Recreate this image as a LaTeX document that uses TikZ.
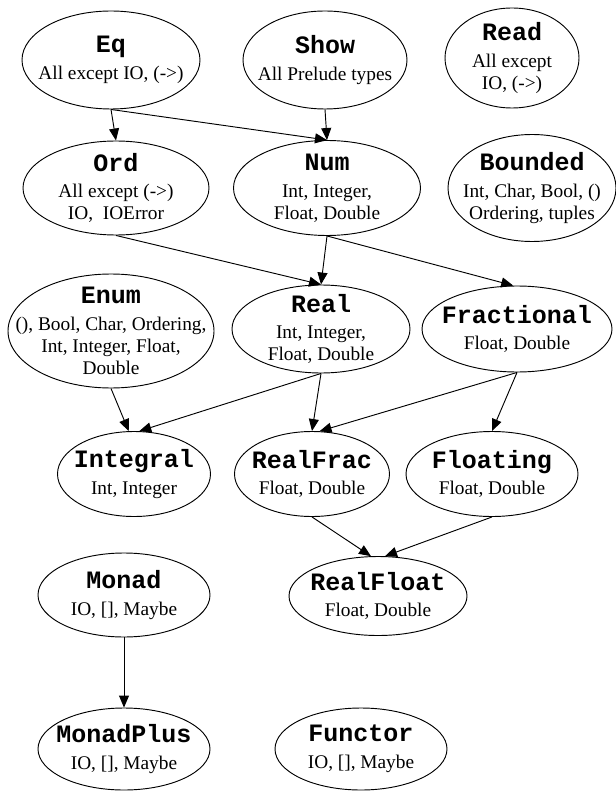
\documentclass[tikz,border=0pt]{standalone}
\usepackage{fontspec}
\setmainfont{Liberation Serif}
\newfontfamily\typefont{Liberation Mono}
\usetikzlibrary{shapes.geometric,arrows.meta}
\tikzset{
    cls/.style 2 args = {draw, ellipse, inner sep=0pt, line width=0.7pt,
        minimum width=#1*0.75pt, minimum height=#2*0.75pt},
    txt/.style = {align=center, inner sep=0pt, font=\fontsize{14.5}{16.5}\selectfont},
    arrow/.style = {draw, line width=0.7pt, -{Triangle[length=9pt,width=7.5pt]}}
}
\newcommand{\cname}[1]{{\fontsize{18.75}{22}\selectfont\typefont\bfseries #1}}

\begin{document}
\begin{tikzpicture}[x=0.75pt,y=-0.75pt]
    \useasboundingbox (0,0) rectangle (616,791);
    % classes
    \node[cls={178}{98},label={[txt]center:{\cname{Eq}\\[3.5pt]All except IO, (->)}}] (eq) at (111,60) {};
    \node[cls={164}{98},label={[txt]center:{\cname{Show}\\[3.5pt]All Prelude types}}] (show) at (325,60) {};
    \node[cls={134}{100},label={[txt]center:{\cname{Read}\\[3.5pt]All except\\IO, (->)}}] (read) at (512,58) {};
    \node[cls={186}{94},label={[txt]center:{\cname{Ord}\\[3.5pt]All except (->)\\IO,\ \ IOError}}] (ord) at (116,188) {};
    \node[cls={187}{95},label={[txt]center:{\cname{Num}\\[3.5pt]Int, Integer,\\Float, Double}}] (num) at (327,188) {};
    \node[cls={168}{107},label={[txt]center:{\cname{Bounded}\\[3.5pt]Int, Char, Bool, ()\\Ordering, tuples}}] (bounded) at (532,188) {};
    \node[cls={206}{114},label={[txt]center:{\cname{Enum}\\[3.5pt](), Bool, Char, Ordering,\\Int, Integer, Float,\\Double}}] (enum) at (111,331) {};
    \node[cls={178}{88},label={[txt]center:{\cname{Real}\\[3.5pt]Int, Integer,\\Float, Double}}] (real) at (321,329) {};
    \node[cls={190}{86},label={[txt]center:{\cname{Fractional}\\[3.5pt]Float, Double}}] (fractional) at (517,329) {};
    \node[cls={153}{85},label={[txt]center:{\cname{Integral}\\[3.5pt]Int, Integer}}] (integral) at (134,474) {};
    \node[cls={155}{85},label={[txt]center:{\cname{RealFrac}\\[3.5pt]Float, Double}}] (realfrac) at (312,474) {};
    \node[cls={172}{85},label={[txt]center:{\cname{Floating}\\[3.5pt]Float, Double}}] (floating) at (492,474) {};
    \node[cls={172}{84},label={[txt]center:{\cname{Monad}\\[3.5pt]IO, [], Maybe}}] (monad) at (124,595) {};
    \node[cls={178}{79},label={[txt]center:{\cname{RealFloat}\\[3.5pt]Float, Double}}] (realfloat) at (378,596) {};
    \node[cls={172}{82},label={[txt]center:{\cname{MonadPlus}\\[3.5pt]IO, [], Maybe}}] (monadplus) at (124,749) {};
    \node[cls={172}{82},label={[txt]center:{\cname{Functor}\\[3.5pt]IO, [], Maybe}}] (functor) at (361,749) {};
    % superclass edges
    \draw[arrow] (eq.south) -- (ord.north);
    \draw[arrow] (eq.south) -- (num.north);
    \draw[arrow] (show.south) -- (num.north);
    \draw[arrow] (ord.south) -- (real.north);
    \draw[arrow] (num.south) -- (real.north);
    \draw[arrow] (num.south) -- (fractional.95);
    \draw[arrow] (enum.south) -- (integral.97);
    \draw[arrow] (real.south) -- (integral.83);
    \draw[arrow] (real.south) -- (realfrac.north);
    \draw[arrow] (fractional.south) -- (realfrac.80);
    \draw[arrow] (fractional.south) -- (floating.north);
    \draw[arrow] (realfrac.south) -- (realfloat.100);
    \draw[arrow] (floating.south) -- (realfloat.80);
    \draw[arrow] (monad.south) -- (monadplus.north);
\end{tikzpicture}
\end{document}
